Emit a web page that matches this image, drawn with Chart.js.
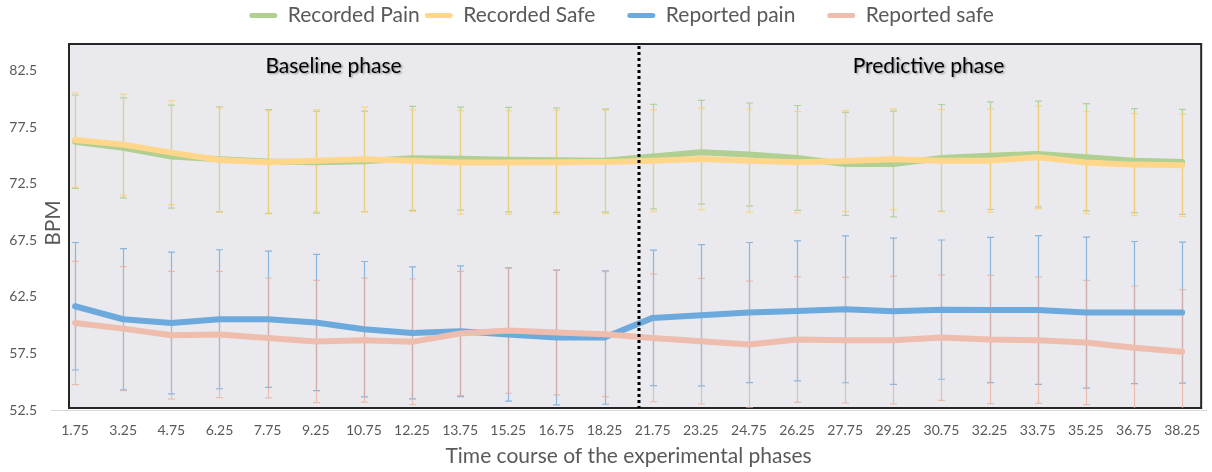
<!DOCTYPE html>
<html>
<head>
<meta charset="utf-8">
<script src="https://cdn.jsdelivr.net/npm/chart.js@4.4.1/dist/chart.umd.min.js"></script>
<style>
  html, body { margin: 0; padding: 0; background: #fff; }
  #wrap { width: 1212px; height: 472px; }
</style>
</head>
<body>
<div id="wrap"><canvas id="chart"></canvas></div>
<script>
"use strict";

// 1: data
const timeLabels = ['1.75', '3.25', '4.75', '6.25', '7.75', '9.25', '10.75', '12.25', '13.75', '15.25', '16.75', '18.25',
  '21.75', '23.25', '24.75', '26.25', '27.75', '29.25', '30.75', '32.25', '33.75', '35.25', '36.75', '38.25'];

const recordedPain = [76.24, 75.69, 74.92, 74.68, 74.48, 74.42, 74.50, 74.77, 74.74, 74.65, 74.60, 74.56,
  74.92, 75.30, 75.10, 74.80, 74.27, 74.27, 74.80, 75.00, 75.15, 74.86, 74.56, 74.45];
const recordedPainSd = [4.13, 4.42, 4.56, 4.65, 4.59, 4.51, 4.45, 4.60, 4.55, 4.62, 4.62, 4.56,
  4.62, 4.59, 4.56, 4.64, 4.56, 4.68, 4.73, 4.76, 4.68, 4.75, 4.60, 4.65];

const recordedSafe = [76.39, 75.98, 75.27, 74.62, 74.42, 74.56, 74.68, 74.56, 74.39, 74.39, 74.42, 74.45,
  74.56, 74.71, 74.56, 74.42, 74.53, 74.68, 74.56, 74.56, 74.86, 74.39, 74.21, 74.15];
const recordedSafeSd = [4.18, 4.47, 4.60, 4.60, 4.57, 4.51, 4.62, 4.49, 4.59, 4.59, 4.60, 4.57,
  4.50, 4.50, 4.55, 4.49, 4.46, 4.46, 4.52, 4.58, 4.55, 4.52, 4.52, 4.53];

const reportedPain = [61.68, 60.53, 60.20, 60.53, 60.53, 60.24, 59.65, 59.32, 59.47, 59.18, 58.91, 58.91,
  60.65, 60.88, 61.12, 61.27, 61.41, 61.24, 61.38, 61.35, 61.35, 61.12, 61.12, 61.12];
const reportedPainSd = [5.64, 6.24, 6.27, 6.15, 6.03, 6.03, 5.99, 5.84, 5.79, 5.89, 5.96, 5.90,
  6.00, 6.25, 6.20, 6.20, 6.50, 6.47, 6.16, 6.43, 6.58, 6.68, 6.29, 6.24];

const reportedSafe = [60.20, 59.70, 59.12, 59.18, 58.88, 58.56, 58.68, 58.53, 59.27, 59.53, 59.36, 59.21,
  58.88, 58.59, 58.30, 58.74, 58.68, 58.68, 58.91, 58.74, 58.68, 58.47, 58.00, 57.65];
const reportedSafeSd = [5.45, 5.48, 5.65, 5.58, 5.30, 5.40, 5.49, 5.56, 5.50, 5.55, 5.52, 5.52,
  5.65, 5.56, 5.60, 5.56, 5.56, 5.65, 5.55, 5.67, 5.60, 5.50, 5.47, 5.50];

const yTicks = [52.5, 57.5, 62.5, 67.5, 72.5, 77.5, 82.5];

// phase labels and where the phases split (in category positions)
const phaseNames = ['Baseline phase', 'Predictive phase'];
const phaseLabelAt = [5.37, 17.73];
const phaseSplitAt = 11.71;

const textGrey = '#595959';
const fontFamily = 'Lato, "Open Sans", sans-serif';

// 2: plugins
// legend sits a bit right of the canvas centre in the original
const legendShift = {
  id: 'legendShift',
  afterLayout(chart) {
    if (chart.legend) {
      chart.legend.left += 29;
      chart.legend.right += 29;
    }
  }
};

// grey panel with a black frame behind the lines
const panel = {
  id: 'panel',
  beforeDatasetsDraw(chart) {
    const {ctx, chartArea} = chart;
    const left = chartArea.left + 18, right = chartArea.right - 5;
    const top = chartArea.top + 8, bottom = chartArea.bottom - 2;
    ctx.save();
    ctx.fillStyle = '#E9E9EE';
    ctx.fillRect(left, top, right - left, bottom - top);
    ctx.strokeStyle = '#262626';
    ctx.lineWidth = 2;
    ctx.strokeRect(left, top, right - left, bottom - top);
    ctx.restore();
  }
};

// error bars: +/- one SD, drawn under the lines
const errorBars = {
  id: 'errorBars',
  beforeDatasetsDraw(chart) {
    const {ctx, chartArea, scales: {x, y}} = chart;
    ctx.save();
    ctx.beginPath();
    ctx.rect(chartArea.left, chartArea.top, chartArea.width, chartArea.bottom - chartArea.top - 2);
    ctx.clip();
    chart.data.datasets.forEach((ds) => {
      ctx.strokeStyle = ds.errorColor;
      ctx.lineWidth = 1.2;
      ds.data.forEach((v, i) => {
        const px = Math.round(x.getPixelForValue(i)) + 0.5;
        const hi = y.getPixelForValue(v + ds.errors[i]);
        const lo = y.getPixelForValue(v - ds.errors[i]);
        ctx.beginPath();
        ctx.moveTo(px, hi); ctx.lineTo(px, lo);
        ctx.moveTo(px - 3.5, hi); ctx.lineTo(px + 3.5, hi);
        ctx.moveTo(px - 3.5, lo); ctx.lineTo(px + 3.5, lo);
        ctx.stroke();
      });
    });
    ctx.restore();
  }
};

// dotted split line + phase names
const phases = {
  id: 'phases',
  afterDatasetsDraw(chart) {
    const {ctx, chartArea, scales: {x}} = chart;
    const top = chartArea.top + 8, bottom = chartArea.bottom - 2;
    ctx.save();
    const sx = Math.round(x.getPixelForValue(phaseSplitAt));
    ctx.strokeStyle = '#000';
    ctx.lineWidth = 3;
    ctx.setLineDash([3, 3]);
    ctx.beginPath();
    ctx.moveTo(sx, top + 2); ctx.lineTo(sx, bottom);
    ctx.stroke();
    ctx.setLineDash([]);

    ctx.font = '21px ' + fontFamily;
    ctx.fillStyle = '#000';
    ctx.textAlign = 'center';
    ctx.textBaseline = 'middle';
    ctx.shadowColor = 'rgba(0,0,0,0.35)';
    ctx.shadowOffsetX = 1.5;
    ctx.shadowOffsetY = 1.5;
    ctx.shadowBlur = 2;
    phaseNames.forEach((name, i) => {
      ctx.fillText(name, x.getPixelForValue(phaseLabelAt[i]), top + 22);
    });
    ctx.restore();
  }
};

// y axis title sits between the tick labels and the panel
const yTitle = {
  id: 'yTitle',
  afterDraw(chart) {
    const {ctx, chartArea} = chart;
    ctx.save();
    ctx.translate(chartArea.left + 2, 223);
    ctx.rotate(-Math.PI / 2);
    ctx.font = '21px ' + fontFamily;
    ctx.fillStyle = textGrey;
    ctx.textAlign = 'center';
    ctx.textBaseline = 'middle';
    ctx.fillText('BPM', 0, 0);
    ctx.restore();
  }
};

// 3: create and append the chart
function lineSet(label, data, errors, color, errorColor, order) {
  return {
    label: label,
    data: data,
    errors: errors,
    errorColor: errorColor,
    borderColor: color,
    backgroundColor: color,
    borderWidth: 6,
    pointRadius: 0,
    pointHoverRadius: 0,
    borderJoinStyle: 'round',
    borderCapStyle: 'round',
    tension: 0,
    order: order
  };
}

function appendChart() {
  const chartContainer = document.getElementById('chart');
  new Chart(chartContainer, {
    type: 'line',
    data: {
      labels: timeLabels,
      datasets: [
        lineSet('Recorded Pain', recordedPain, recordedPainSd, '#AFCF93', 'rgba(160,200,125,0.75)', 4),
        lineSet('Recorded Safe', recordedSafe, recordedSafeSd, '#FFD68A', 'rgba(255,205,110,0.75)', 3),
        lineSet('Reported pain', reportedPain, reportedPainSd, '#6CA9DC', 'rgba(95,160,215,0.7)', 2),
        lineSet('Reported safe', reportedSafe, reportedSafeSd, '#EEBDAD', 'rgba(235,170,150,0.7)', 1)
      ]
    },
    options: {
      responsive: true,
      maintainAspectRatio: false,
      animation: false,
      layout: { padding: { top: 0, right: 0, left: 0, bottom: 0 } },
      plugins: {
        tooltip: { enabled: false },
        legend: {
          position: 'top',
          labels: {
            color: textGrey,
            font: { family: fontFamily, size: 21 },
            boxWidth: 28,
            boxHeight: 5,
            padding: 5,
            useBorderRadius: true,
            borderRadius: 2.5,
            sort: (a, b) => a.datasetIndex - b.datasetIndex,
            generateLabels(chart) {
              const items = Chart.defaults.plugins.legend.labels.generateLabels(chart);
              items.forEach((it, i) => {
                it.lineWidth = 0;
                it.borderRadius = 2.5;
                if (i < items.length - 1) it.text += '     ';
              });
              return items;
            }
          }
        }
      },
      scales: {
        x: {
          offset: true,
          grid: { display: false, drawTicks: false },
          border: { display: true, color: '#D9D9D9', width: 1 },
          ticks: {
            color: textGrey,
            font: { family: fontFamily, size: 14 },
            padding: 12,
            maxRotation: 0,
            autoSkip: false
          },
          title: {
            display: true,
            text: 'Time course of the experimental phases',
            color: textGrey,
            font: { family: fontFamily, size: 21 },
            padding: { top: 0, bottom: 3 }
          },
          afterFit(scale) { scale.height = 62; }
        },
        y: {
          min: 52.5,
          max: 85.59,
          grid: { display: false, drawTicks: false },
          border: { display: false },
          afterBuildTicks(scale) { scale.ticks = yTicks.map((v) => ({ value: v })); },
          ticks: {
            color: textGrey,
            font: { family: fontFamily, size: 14 },
            padding: 14,
            callback: (v) => Number(v).toFixed(1)
          },
          afterFit(scale) { scale.width = 51; }
        }
      }
    },
    plugins: [legendShift, panel, errorBars, phases, yTitle]
  });
}

appendChart();
</script>
</body>
</html>
